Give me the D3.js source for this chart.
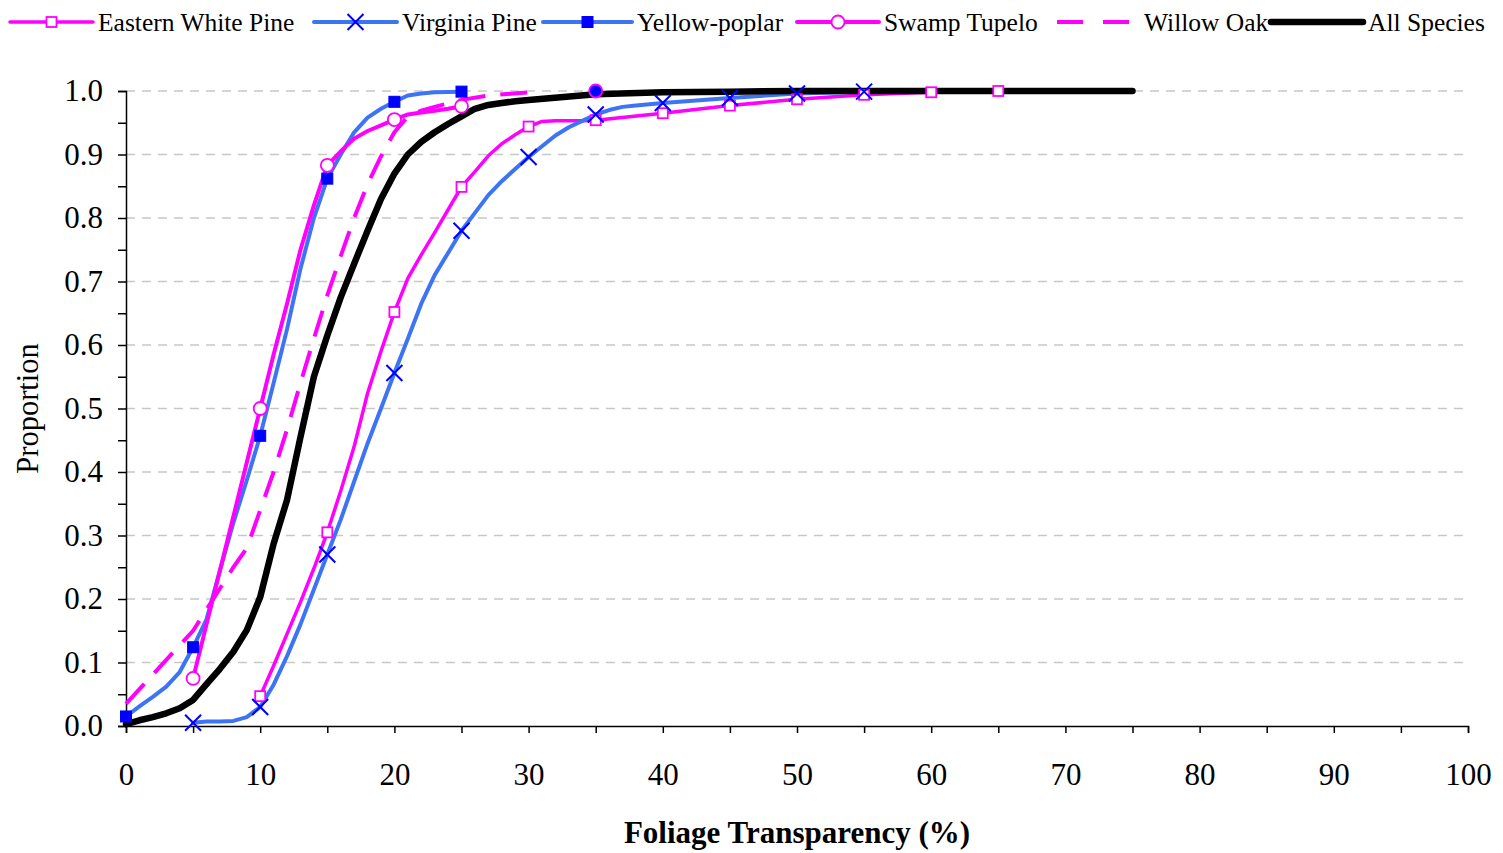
<!DOCTYPE html>
<html>
<head>
<meta charset="utf-8">
<script src="https://cdn.jsdelivr.net/npm/d3@7"></script>
<style>
  body { margin: 0; background: #fff; }
  svg { display: block; }
  text { font-family: "Liberation Serif", "Times New Roman", serif; fill: #000; }
</style>
</head>
<body>
<svg id="chart" width="1503" height="853"></svg>
<script>
// Cumulative proportion of trees by foliage transparency (%)
const xTickValues = [0, 10, 20, 30, 40, 50, 60, 70, 80, 90, 100];
const yTickValues = [0.0, 0.1, 0.2, 0.3, 0.4, 0.5, 0.6, 0.7, 0.8, 0.9, 1.0];

const seriesNames = ["Eastern White Pine", "Virginia Pine", "Yellow-poplar", "Swamp Tupelo", "Willow Oak", "All Species"];

const ewpX = [10, 11, 12, 13, 14, 15, 16, 17, 18, 19, 20, 21, 22, 23, 24, 25, 26, 27, 28, 29, 30, 31, 32, 33, 34, 35, 40, 45, 50, 55, 60, 65];
const ewpP = [0.047, 0.095, 0.145, 0.195, 0.248, 0.305, 0.37, 0.44, 0.524, 0.59, 0.652, 0.705, 0.742, 0.777, 0.813, 0.849, 0.873, 0.898, 0.917, 0.931, 0.944, 0.952, 0.953, 0.953, 0.953, 0.954, 0.965, 0.977, 0.987, 0.994, 0.998, 1.0];

const vpX = [5, 6, 7, 8, 9, 10, 11, 12, 13, 14, 15, 16, 17, 18, 19, 20, 21, 22, 23, 24, 25, 26, 27, 28, 29, 30, 31, 32, 33, 34, 35, 36, 37, 38, 40, 45, 50, 55];
const vpP = [0.005, 0.007, 0.007, 0.008, 0.014, 0.03, 0.065, 0.11, 0.16, 0.215, 0.27, 0.325, 0.385, 0.445, 0.50, 0.556, 0.61, 0.665, 0.71, 0.745, 0.78, 0.808, 0.836, 0.858, 0.877, 0.896, 0.913, 0.93, 0.943, 0.953, 0.963, 0.97, 0.975, 0.977, 0.981, 0.989, 0.996, 0.999];

const ypX = [0, 1, 2, 3, 4, 5, 6, 7, 8, 9, 10, 11, 12, 13, 14, 15, 16, 17, 18, 19, 20, 21, 22, 23, 25];
const ypP = [0.015, 0.031, 0.046, 0.062, 0.085, 0.124, 0.168, 0.245, 0.32, 0.387, 0.457, 0.54, 0.625, 0.72, 0.80, 0.862, 0.90, 0.935, 0.958, 0.972, 0.983, 0.993, 0.996, 0.998, 0.999];

const stX = [5, 10, 11, 12, 13, 14, 15, 16, 17, 18, 19, 20, 21, 22, 23, 24, 25, 30, 35];
const stP = [0.075, 0.50, 0.585, 0.665, 0.75, 0.82, 0.883, 0.905, 0.925, 0.937, 0.946, 0.955, 0.963, 0.966, 0.969, 0.972, 0.976, null, 1.0];

const woX = [0, 5, 8, 9, 10, 11, 12, 13, 14, 15, 16, 17, 18, 19, 20, 21, 22, 23, 25, 27, 30];
const woP = [0.035, 0.15, 0.25, 0.28, 0.34, 0.40, 0.467, 0.54, 0.61, 0.678, 0.74, 0.80, 0.853, 0.897, 0.935, 0.96, 0.969, 0.975, 0.986, 0.993, 0.998];

const allX = [0, 1, 2, 3, 4, 5, 6, 7, 8, 9, 10, 11, 12, 13, 14, 15, 16, 17, 18, 19, 20, 21, 22, 23, 24, 25, 26, 27, 28, 29, 30, 35, 40, 45, 50, 75];
const allP = [0.003, 0.009, 0.014, 0.02, 0.028, 0.041, 0.066, 0.09, 0.117, 0.151, 0.203, 0.287, 0.356, 0.455, 0.55, 0.615, 0.675, 0.728, 0.78, 0.83, 0.87, 0.90, 0.92, 0.935, 0.948, 0.96, 0.972, 0.978, 0.981, 0.984, 0.986, 0.995, 0.998, 0.999, 1.0, 1.0];

const zip = (xs, ps) => xs.map((x, i) => ({ x, p: ps[i] }));

const series = [
  { name: seriesNames[0], data: zip(ewpX, ewpP), color: "#ff00ff", width: 3.5, dash: null, marker: "openSquare" },
  { name: seriesNames[1], data: zip(vpX, vpP), color: "#3d74f5", width: 4, dash: null, marker: "cross" },
  { name: seriesNames[2], data: zip(ypX, ypP), color: "#3d74f5", width: 4, dash: null, marker: "filledSquare" },
  { name: seriesNames[3], data: zip(stX, stP), color: "#ff00ff", width: 4, dash: null, marker: "openCircle" },
  { name: seriesNames[4], data: zip(woX, woP), color: "#ff00ff", width: 4, dash: "27,15", marker: null },
  { name: seriesNames[5], data: zip(allX, allP), color: "#000000", width: 6.5, dash: null, marker: null }
];

const svg = d3.select("#chart");
const x = d3.scaleLinear().domain([0, 100]).range([126, 1468]);
const y = d3.scaleLinear().domain([0, 1]).range([726, 91]);

// horizontal dashed gridlines
svg.append("g")
  .selectAll("line")
  .data(yTickValues.filter(v => v > 0))
  .join("line")
  .attr("x1", x(0)).attr("x2", x(100))
  .attr("y1", d => y(d)).attr("y2", d => y(d))
  .attr("stroke", "#c8c8c8")
  .attr("stroke-width", 1.5)
  .attr("stroke-dasharray", "9,7");

// axes
const fmtY = d3.format(".1f");
const yAxis = d3.axisLeft(y)
  .tickValues(d3.range(0, 21).map(i => i * 0.05))
  .tickSize(8)
  .tickPadding(15)
  .tickFormat(d => yTickValues.some(v => Math.abs(v - d) < 1e-6) ? fmtY(d) : "");
const xAxis = d3.axisBottom(x)
  .tickValues(d3.range(0, 21).map(i => i * 5))
  .tickSize(7)
  .tickPadding(30)
  .tickFormat(d => xTickValues.includes(d) ? d : "");

const gy = svg.append("g").attr("transform", `translate(${x(0)},0)`).call(yAxis);
const gx = svg.append("g").attr("transform", `translate(0,${y(0)})`).call(xAxis);
[gx, gy].forEach(g => {
  g.select(".domain").attr("stroke", "#000").attr("stroke-width", 1.5);
  g.selectAll(".tick line").attr("stroke", "#000").attr("stroke-width", 1.5);
  g.selectAll(".tick text")
    .attr("font-family", '"Liberation Serif", "Times New Roman", serif')
    .attr("font-size", 31).attr("fill", "#000");
});

// axis titles
svg.append("text")
  .attr("x", (x(0) + x(100)) / 2).attr("y", 843)
  .attr("text-anchor", "middle")
  .attr("font-size", 31).attr("font-weight", "bold")
  .text("Foliage Transparency (%)");
svg.append("text")
  .attr("transform", `translate(38,${(y(0) + y(1)) / 2}) rotate(-90)`)
  .attr("text-anchor", "middle")
  .attr("font-size", 30.5)
  .text("Proportion");

// series lines
const line = d3.line()
  .defined(d => d.p !== null)
  .x(d => x(d.x))
  .y(d => y(d.p));

svg.append("g")
  .selectAll("path")
  .data(series)
  .join("path")
  .attr("d", s => line(s.data))
  .attr("fill", "none")
  .attr("stroke", s => s.color)
  .attr("stroke-width", s => s.width)
  .attr("stroke-dasharray", s => s.dash)
  .attr("stroke-linejoin", "round")
  .attr("stroke-linecap", s => s.dash ? "butt" : "round");

// marker drawing
function drawMarker(g, type, cx, cy, fill) {
  if (type === "openSquare") {
    g.append("rect").attr("x", cx - 5).attr("y", cy - 5).attr("width", 10).attr("height", 10)
      .attr("fill", "#fff").attr("stroke", "#ff00ff").attr("stroke-width", 1.8);
  } else if (type === "filledSquare") {
    g.append("rect").attr("x", cx - 5.5).attr("y", cy - 5.5).attr("width", 11).attr("height", 11)
      .attr("fill", "#0000ff").attr("stroke", "#0000ff").attr("stroke-width", 1);
  } else if (type === "openCircle") {
    g.append("circle").attr("cx", cx).attr("cy", cy).attr("r", 6.5)
      .attr("fill", fill || "#fff").attr("stroke", "#ff00ff").attr("stroke-width", 1.8);
  } else if (type === "cross") {
    g.append("path").attr("d", `M${cx - 8},${cy - 8}L${cx + 8},${cy + 8}M${cx - 8},${cy + 8}L${cx + 8},${cy - 8}`)
      .attr("stroke", "#0000ff").attr("stroke-width", 2).attr("fill", "none");
  }
}

// markers at every 5% of transparency
const markerLayer = svg.append("g");
series.filter(s => s.marker).forEach(s => {
  s.data.filter(d => d.p !== null && d.x % 5 === 0).forEach(d => {
    const isolated = s.marker === "openCircle" && d.x === 35;
    drawMarker(markerLayer, s.marker, x(d.x), y(d.p), isolated ? "#0000ff" : null);
  });
});

// legend
const legendItems = [
  { start: 10, text: 98 },
  { start: 314, text: 402 },
  { start: 543, text: 637 },
  { start: 797, text: 884 },
  { start: 1057, text: 1144 },
  { start: 1271, text: 1368 }
];
const legendY = 22;
const legend = svg.append("g");
series.forEach((s, i) => {
  const it = legendItems[i];
  const x1 = it.start, x2 = it.text - 5;
  legend.append("line")
    .attr("x1", x1).attr("x2", x2).attr("y1", legendY).attr("y2", legendY)
    .attr("stroke", s.color).attr("stroke-width", s.width)
    .attr("stroke-dasharray", s.dash ? "26,20" : null)
    .attr("stroke-linecap", s.dash ? "butt" : "round");
  if (s.marker) drawMarker(legend, s.marker, (x1 + x2) / 2, legendY, null);
  legend.append("text")
    .attr("x", it.text).attr("y", legendY + 9)
    .attr("font-size", 25.5)
    .text(s.name);
});
</script>
</body>
</html>
